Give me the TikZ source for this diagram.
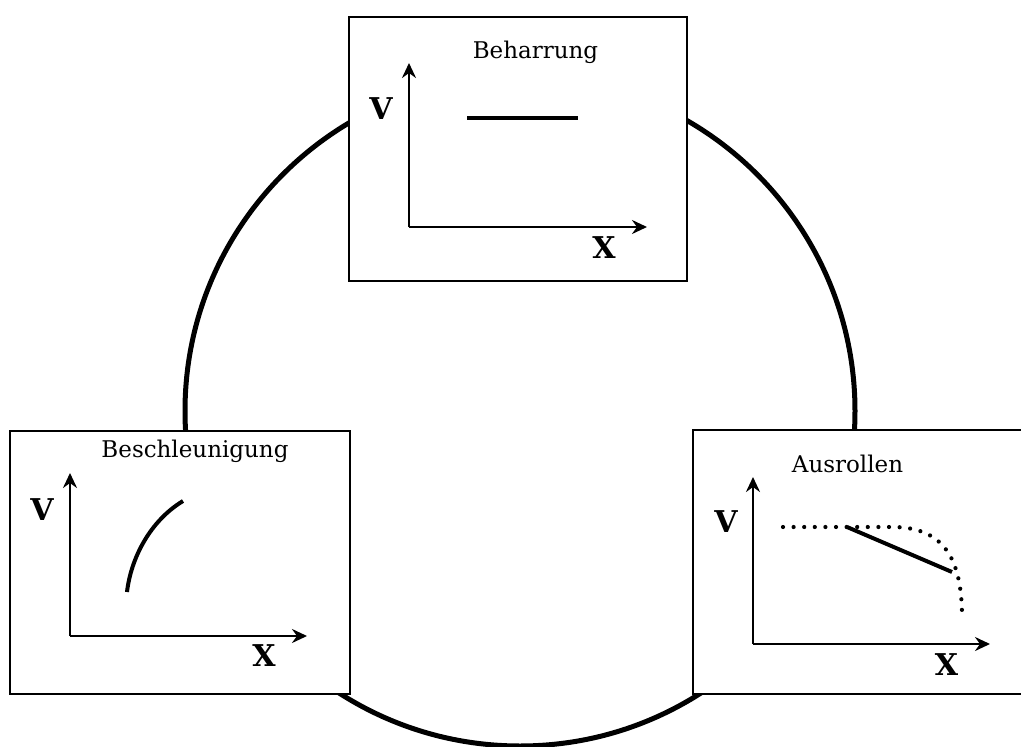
\documentclass[tikz,border=0pt]{standalone}
\usepackage{fontspec}
\setmainfont{DejaVu Serif}
\usetikzlibrary{arrows.meta}
\tikzset{
  panel/.style={draw=black, line width=1.5pt, fill=white, rectangle, inner sep=0pt},
  titletext/.style={anchor=base, inner sep=0pt, font=\fontsize{23}{28}\selectfont},
  axislabel/.style={inner sep=0pt, font=\bfseries\fontsize{30}{34}\selectfont},
  axis/.style={line width=2.6pt, -{Stealth[length=15pt,width=14pt,inset=5pt]}},
  graphline/.style={line width=4pt},
  dotline/.style={line width=4.2pt, line cap=round, dash pattern=on 0pt off 10.6pt},
  ring/.style={line width=5pt}
}
\begin{document}
\begin{tikzpicture}[x=1pt,y=-1pt]
\useasboundingbox (0,0) rectangle (1021,747);
% ring
\node[circle, draw, ring, minimum size=670pt, inner sep=0pt] (ring) at (520,411) {};
% panels
\node[panel, minimum width=338pt, minimum height=264pt] (top) at (518,149) {};
\node[panel, minimum width=340pt, minimum height=263pt] (left) at (180,562.5) {};
\node[panel, minimum width=338pt, minimum height=264pt] (right) at (862,562) {};
% titles
\node[titletext] (t1) at (535.5,58) {Beharrung};
\node[titletext] (t2) at (195,457) {Beschleunigung};
\node[titletext] (t3) at (847.5,472) {Ausrollen};
% top graph
\coordinate (o1) at (409,227);
\coordinate (y1) at (409,63);
\coordinate (x1) at (647,227);
\draw[axis] (o1) -- (y1);
\draw[axis] (o1) -- (x1);
\node[axislabel] (v1) at (381,108.5) {V};
\node[axislabel] (xl1) at (604,247.5) {X};
\coordinate (b1) at (467,118);
\coordinate (b2) at (578,118);
\draw[graphline] (b1) -- (b2);
% left graph
\coordinate (o2) at (70,636);
\coordinate (y2) at (70,473);
\coordinate (x2) at (307,636);
\draw[axis] (o2) -- (y2);
\draw[axis] (o2) -- (x2);
\node[axislabel] (v2) at (42,510) {V};
\node[axislabel] (xl2) at (264,655.5) {X};
\coordinate (c1) at (127,592);
\coordinate (c2) at (183,501);
\draw[graphline] (c1) .. controls (131,558) and (150,521) .. (c2);
% right graph
\coordinate (o3) at (753,644);
\coordinate (y3) at (753,477);
\coordinate (x3) at (990,644);
\draw[axis] (o3) -- (y3);
\draw[axis] (o3) -- (x3);
\node[axislabel] (v3) at (726,522) {V};
\node[axislabel] (xl3) at (946.5,664.5) {X};
\coordinate (d1) at (783,527);
\coordinate (d2) at (892,527);
\coordinate (d3) at (962,613);
\draw[dotline] (d1) -- (d2) .. controls (945,527) and (961,560) .. (d3);
\coordinate (s1) at (847,527);
\coordinate (s2) at (952,572);
\draw[graphline] (s1) -- (s2);
\end{tikzpicture}
\end{document}
